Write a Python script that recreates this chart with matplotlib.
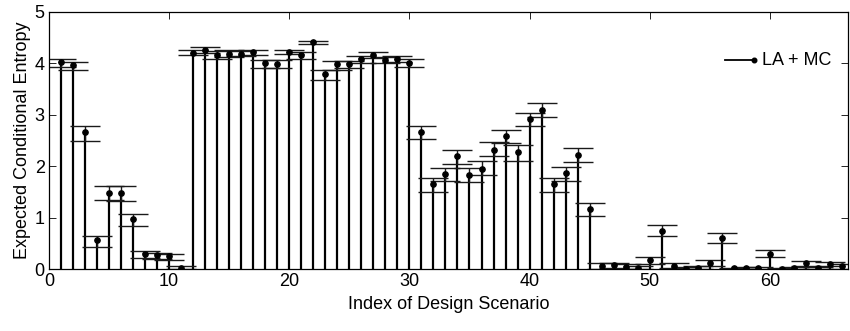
import numpy as np
import matplotlib
matplotlib.use('Agg')
import matplotlib.pyplot as plt

plt.rcParams['font.family'] = ['Liberation Sans', 'DejaVu Sans']

# indice de escenario de diseno
escenarios = list(range(1, 67))

# valor medio (punto)
media = [4.02, 3.97, 2.66, 0.56, 1.48, 1.48, 0.97, 0.29, 0.27, 0.25,
         0.03, 4.20, 4.26, 4.16, 4.19, 4.19, 4.22, 4.00, 3.98, 4.22,
         4.17, 4.41, 3.79, 3.98, 3.98, 4.08, 4.17, 4.06, 4.09, 4.01,
         2.66, 1.65, 1.84, 2.19, 1.82, 1.95, 2.32, 2.59, 2.27, 2.92,
         3.09, 1.66, 1.86, 2.21, 1.17, 0.06, 0.08, 0.04, 0.03, 0.17,
         0.74, 0.06, 0.01, 0.03, 0.12, 0.61, 0.02, 0.02, 0.03, 0.30,
         0.01, 0.02, 0.11, 0.02, 0.10, 0.06]

# limite superior de la barra de error
superior = [4.09, 4.03, 2.78, 0.64, 1.61, 1.61, 1.07, 0.36, 0.32, 0.30,
            0.06, 4.26, 4.31, 4.24, 4.25, 4.24, 4.26, 4.07, 4.07, 4.26,
            4.22, 4.43, 3.88, 4.04, 4.04, 4.15, 4.22, 4.12, 4.14, 4.08,
            2.78, 1.78, 1.97, 2.32, 1.97, 2.10, 2.47, 2.71, 2.41, 3.04,
            3.22, 1.78, 1.99, 2.36, 1.28, 0.11, 0.12, 0.10, 0.07, 0.23,
            0.85, 0.12, 0.05, 0.06, 0.17, 0.70, 0.03, 0.04, 0.05, 0.38,
            0.03, 0.04, 0.16, 0.04, 0.14, 0.10]

# limite inferior de la barra de error
inferior = [3.93, 3.88, 2.50, 0.43, 1.35, 1.33, 0.83, 0.22, 0.19, 0.17,
            0.00, 4.16, 4.20, 4.08, 4.12, 4.14, 4.16, 3.90, 3.90, 4.18,
            4.08, 4.38, 3.68, 3.88, 3.90, 4.01, 4.11, 4.00, 4.03, 3.93,
            2.53, 1.50, 1.71, 2.04, 1.69, 1.82, 2.19, 2.46, 2.11, 2.79,
            2.95, 1.50, 1.71, 2.08, 1.04, 0.01, 0.03, 0.01, 0.00, 0.10,
            0.64, 0.02, 0.00, 0.01, 0.07, 0.51, 0.00, 0.00, 0.01, 0.23,
            0.00, 0.00, 0.06, 0.00, 0.06, 0.01]


def graficar():
  x = np.array(escenarios)
  y = np.array(media)
  err = [np.clip(y - np.array(inferior), 0, None), np.clip(np.array(superior) - y, 0, None)]

  fig = plt.figure(figsize=(8.5, 3.31), dpi=100)
  ax = fig.add_axes([0.0576, 0.187, 0.94, 0.777])

  ax.vlines(x, 0, y, color='black', linewidth=1.6)
  ax.errorbar(x, y, yerr=err, fmt='none', ecolor='#1a1a1a', elinewidth=1.0,
              capsize=11, capthick=1.0)
  ax.plot(x, y, 'o', color='black', markersize=3.8)

  # leyenda con el punto al final de la linea, como en MATLAB
  ax.plot([0.846, 0.882], [0.813, 0.813], color='black', linewidth=1.3,
          marker='o', markersize=3.3, markevery=[1], transform=ax.transAxes)
  ax.text(0.893, 0.813, 'LA + MC', transform=ax.transAxes, fontsize=13,
          va='center', ha='left')

  ax.set_xlim(0, 66.5)
  ax.set_ylim(0, 5)
  ax.set_xticks([0, 10, 20, 30, 40, 50, 60])
  ax.set_yticks([0, 1, 2, 3, 4, 5])
  ax.tick_params(direction='in', length=5, width=0.6, labelsize=13,
                 top=True, right=True, pad=3)
  for s in ax.spines.values():
    s.set_linewidth(0.9)

  ax.set_xlabel('Index of Design Scenario', fontsize=13, labelpad=4)
  ax.set_ylabel('Expected Conditional Entropy', fontsize=13, labelpad=3)

  fig.savefig('out.png', dpi=100)


graficar()
